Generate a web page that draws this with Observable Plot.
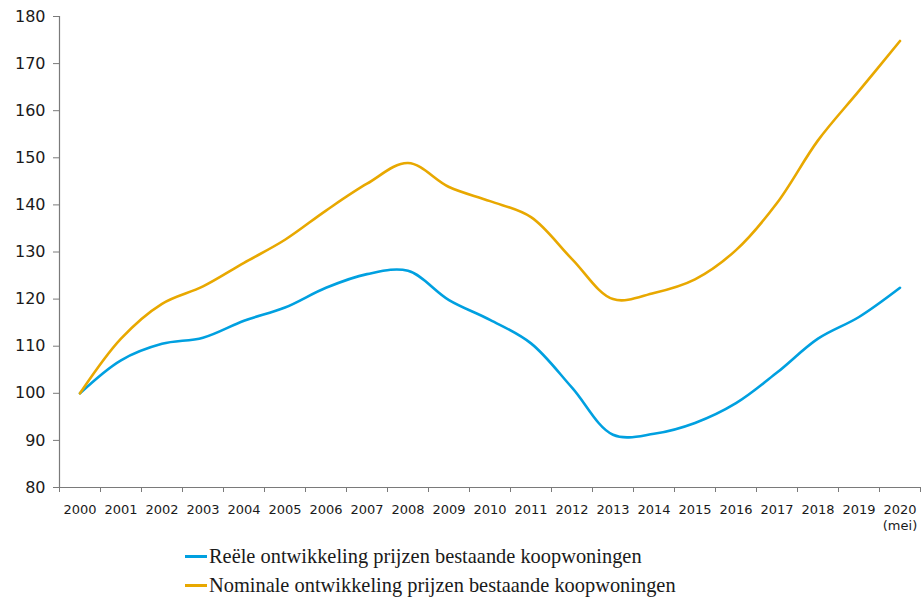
<!DOCTYPE html>
<html>
<head>
<meta charset="utf-8">
<script src="https://cdn.jsdelivr.net/npm/d3@7"></script>
<script src="https://cdn.jsdelivr.net/npm/@observablehq/plot@0.6"></script>
<style>
  html, body { margin: 0; padding: 0; background: #fff; }
  #wrap { position: relative; width: 921px; height: 601px; }
  #legend { position: absolute; left: 185px; top: 542px; font-family: "Liberation Serif", serif; font-size: 20.4px; color: #1a1a1a; }
  .item { display: flex; align-items: center; height: 29px; white-space: nowrap; }
  .swatch { width: 22px; height: 3px; margin-right: 2px; }
</style>
</head>
<body>
<div id="wrap"><div id="chart"></div><div id="legend"></div></div>
<script>
const years = [2000,2001,2002,2003,2004,2005,2006,2007,2008,2009,2010,2011,2012,2013,2014,2015,2016,2017,2018,2019,2020];
const reeel = [100,107.0,110.5,111.8,115.4,118.2,122.4,125.3,126.0,119.8,115.6,110.6,101.2,91.2,91.4,93.7,97.9,104.4,111.6,116.2,122.4];
const nominaal = [100,111.6,119.0,122.7,127.7,132.6,138.8,144.5,148.9,143.8,140.8,137.4,128.5,120.0,121.3,124.2,130.4,140.4,153.7,164.2,174.8];
const yTicks = [80,90,100,110,120,130,140,150,160,170,180];
const xLabels = ["2000","2001","2002","2003","2004","2005","2006","2007","2008","2009","2010","2011","2012","2013","2014","2015","2016","2017","2018","2019","2020\n(mei)"];
const seriesNames = ["Reële ontwikkeling prijzen bestaande koopwoningen","Nominale ontwikkeling prijzen bestaande koopwoningen"];
const seriesColors = ["#00a0e0","#e8a800"];

const rows = [];
years.forEach((y, i) => {
  rows.push({year: y, value: reeel[i], series: seriesNames[0]});
  rows.push({year: y, value: nominaal[i], series: seriesNames[1]});
});
const boundaries = years.map(y => y - 0.5).concat([years[years.length - 1] + 0.5]);
const axisColor = "#7a7a7a";

const chart = Plot.plot({
  width: 921,
  height: 540,
  marginLeft: 59,
  marginRight: 1,
  marginTop: 16,
  marginBottom: 53,
  style: {fontFamily: "DejaVu Sans, sans-serif", color: "#1a1a1a", background: "#fff"},
  x: {type: "linear", domain: [1999.5, 2020.5]},
  y: {domain: [80, 180]},
  color: {domain: seriesNames, range: seriesColors},
  marks: [
    Plot.axisY({ticks: yTicks, tickSize: 6, tickPadding: 8, fontSize: 16, label: null, stroke: axisColor}),
    Plot.axisX({ticks: boundaries, tickSize: 5, tickFormat: () => "", label: null, stroke: axisColor}),
    Plot.axisX({ticks: years, tickSize: 0, tickPadding: 14, fontSize: 13, lineHeight: 1.3, label: null,
      tickFormat: d => xLabels[years.indexOf(d)]}),
    Plot.ruleY([80], {stroke: axisColor, strokeWidth: 1.2}),
    Plot.ruleX([1999.5], {stroke: axisColor, strokeWidth: 1.2}),
    Plot.line(rows, {x: "year", y: "value", z: "series", stroke: "series", strokeWidth: 2.6, curve: "catmull-rom"})
  ]
});
document.getElementById("chart").appendChild(chart);

const legend = document.getElementById("legend");
seriesNames.forEach((name, i) => {
  const item = document.createElement("div");
  item.className = "item";
  const sw = document.createElement("span");
  sw.className = "swatch";
  sw.style.background = seriesColors[i];
  const label = document.createElement("span");
  label.textContent = name;
  item.appendChild(sw);
  item.appendChild(label);
  legend.appendChild(item);
});
</script>
</body>
</html>
